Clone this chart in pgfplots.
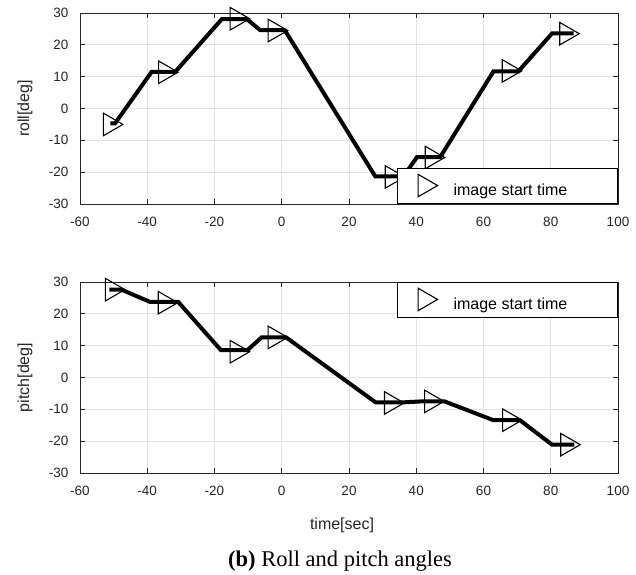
\documentclass[border=0pt]{standalone}
\usepackage{fontspec}
\setmainfont{Liberation Sans}
\newfontfamily\capfont{Liberation Serif}
\usepackage{pgfplots}
\pgfplotsset{compat=1.18}

\definecolor{axgray}{HTML}{262626}
\definecolor{gridgray}{HTML}{E4E4E4}

\pgfplotsset{
  attplot/.style={
    scale only axis, width=538pt, height=191pt,
    xmin=-60, xmax=100, ymin=-30, ymax=30,
    xtick={-60,-40,...,100}, ytick={-30,-20,...,30},
    grid=major, major grid style={gridgray, line width=0.7pt},
    axis line style={axgray, line width=0.9pt},
    tick style={axgray, line width=0.9pt},
    tick align=inside, major tick length=5pt,
    /pgf/number format/assume math mode=true,
    ticklabel style={font=\fontsize{13.5}{16}\selectfont, text=axgray},
    xticklabel style={anchor=center, yshift=-18pt},
    yticklabel style={anchor=east, xshift=-8pt},
    label style={font=\fontsize{16}{19}\selectfont, text=axgray},
    ylabel style={at={(axis description cs:-0.1022,0.5)}, anchor=center},
    xlabel style={at={(axis description cs:0.487,-0.272)}, anchor=center},
    legend style={draw=black, line width=0.9pt, fill=white,
      inner sep=0pt, nodes={inner sep=0pt},
      font=\fontsize{16}{19}\selectfont},
    legend cell align=left,
    legend image code/.code={
      \path[draw=none, fill=none] (-26.75pt,-13pt) rectangle (29pt,22pt);
      \draw[##1] plot coordinates {(0pt,5pt)};
    },
  },
  route/.style={black, line width=4pt, no markers},
  starts/.style={only marks, mark=triangle, mark size=13pt,
    mark options={rotate=-90, draw=black, fill=none, line width=1.1pt}},
}

\begin{document}
\begin{tikzpicture}
\useasboundingbox (0pt,0pt) rectangle (636pt,574pt);

% roll
\begin{axis}[attplot, at={(80pt,370pt)}, anchor=south west,
    ylabel={roll[deg]},
    legend style={at={(rel axis cs:1,0)}, anchor=south east}]
  \addplot[route, forget plot] coordinates {
    (-51.0,-4.7) (-49.6,-4.7) (-38.7,11.5) (-31.7,11.5) (-17.8,28.1)
    (-10.4,28.1) (-6.4,24.6) (0.9,24.6) (27.8,-21.3) (36.2,-21.3)
    (40.2,-15.3) (47.1,-15.3) (63.0,11.7) (70.4,11.7) (80.4,23.6)
    (86.8,23.6)
  };
  \addplot[starts] coordinates {
    (-51.1,-5.0) (-34.7,11.4) (-13.4,28.2) (-2.1,24.5)
    (32.7,-21.5) (44.6,-15.4) (67.5,11.8) (84.6,23.5)
  };
  \addlegendentry{\makebox[164pt][l]{image start time}}
\end{axis}

% pitch
\begin{axis}[attplot, at={(80pt,101pt)}, anchor=south west,
    ylabel={pitch[deg]}, xlabel={time[sec]},
    legend style={at={(rel axis cs:1,1)}, anchor=north east}]
  \addplot[route, forget plot] coordinates {
    (-51.3,27.6) (-47.7,27.6) (-39.2,23.75) (-30.8,23.75) (-18.1,8.6)
    (-10.2,8.6) (-6.0,12.6) (1.3,12.6) (27.9,-7.8) (36.3,-7.8)
    (41.7,-7.5) (48.4,-7.5) (62.9,-13.4) (70.8,-13.4) (80.4,-21.1)
    (87.0,-21.1)
  };
  \addplot[starts] coordinates {
    (-50.5,27.6) (-34.8,23.5) (-13.4,8.1) (-2.1,12.6)
    (32.5,-8.0) (44.4,-7.5) (67.6,-13.4) (84.9,-21.1)
  };
  \addlegendentry{\makebox[164pt][l]{image start time}}
\end{axis}

\node[font=\capfont\fontsize{22.5}{27}\selectfont, anchor=base]
  at (340pt,8pt) {\textbf{(b)} Roll and pitch angles};
\end{tikzpicture}
\end{document}
